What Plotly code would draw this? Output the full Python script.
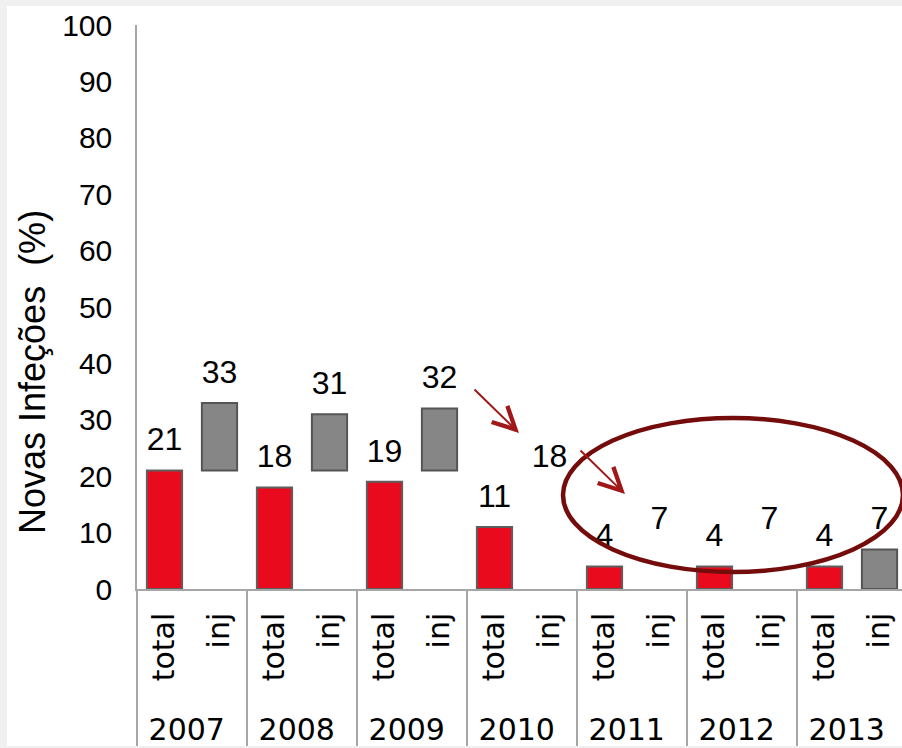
import plotly.graph_objects as go

# ---- data ----
years = ["2007", "2008", "2009", "2010", "2011", "2012", "2013"]
series_names = ["total", "inj"]
total_values = [21, 18, 19, 11, 4, 4, 4]
inj_values = [33, 31, 32, 18, 7, 7, 7]
# lower edge of the visible part of each "inj" bar as drawn in the source (None = no bar shown)
inj_bar_bottom = [21, 21, 21, None, None, None, 0]
y_ticks = list(range(0, 101, 10))

# ---- geometry helpers (pixel layout of the 902x748 canvas) ----
W, H = 902, 748
ML, MR, MT, MB = 137, 0, 25, 159
PW, PH = W - ML - MR, H - MT - MB


def px(x):
    return (x - ML) / PW


def py(y):
    return (H - MB - y) / PH


inj_heights = [None if b is None else v - b for v, b in zip(inj_values, inj_bar_bottom)]

x_total = [years, [series_names[0]] * len(years)]
x_inj = [years, [series_names[1]] * len(years)]

FONT = "Liberation Sans, Arial, sans-serif"
XFONT = "DejaVu Sans, Liberation Sans, sans-serif"

fig = go.Figure()
fig.add_trace(go.Bar(
    x=x_total, y=total_values, width=0.64,
    marker=dict(color="#EA0A1E", line=dict(color="#5E5E5E", width=2)),
    showlegend=False, hoverinfo="skip",
))
fig.add_trace(go.Bar(
    x=x_inj, y=inj_heights, base=inj_bar_bottom, width=0.64,
    marker=dict(color="#868686", line=dict(color="#555555", width=2)),
    showlegend=False, hoverinfo="skip",
))
# value labels
for xs, vals in ((x_total, total_values), (x_inj, inj_values)):
    fig.add_trace(go.Scatter(
        x=xs, y=vals, mode="markers+text", text=[str(v) for v in vals],
        textposition="top center",
        marker=dict(size=18, opacity=0),
        textfont=dict(family=FONT, size=32, color="#000000"),
        cliponaxis=False, showlegend=False, hoverinfo="skip",
    ))

fig.update_layout(
    width=W, height=H,
    margin=dict(l=ML, r=MR, t=MT, b=MB),
    paper_bgcolor="#F0F0F0",
    plot_bgcolor="#FFFFFF",
    barmode="overlay",
    font=dict(family=FONT, color="#000000"),
    xaxis=dict(
        type="multicategory",
        range=[-0.5, -0.5 + PW / 55.0],
        showline=True, linecolor="#A6A6A6", linewidth=1.5,
        showgrid=False, ticks="",
        tickangle=-90,
        tickfont=dict(family=XFONT, size=30, color="#000000"),
        showdividers=True, dividercolor="#A6A6A6", dividerwidth=1.5,
        ticklabelstandoff=10,
        labelalias={"total": "\u00a0\u200atotal", "inj": "inj"},
    ),
    yaxis=dict(
        range=[0, 100], tickvals=y_ticks,
        showline=True, linecolor="#A6A6A6", linewidth=1.5,
        showgrid=False, zeroline=False, ticks="",
        tickfont=dict(family=FONT, size=30, color="#000000"),
        ticklabelstandoff=17,
    ),
    shapes=[
        # white sheet behind the chart
        dict(type="rect", xref="paper", yref="paper", layer="below",
             x0=px(7), x1=px(W + 10), y0=py(746), y1=py(6),
             fillcolor="#FFFFFF", line=dict(width=0)),
        # grey strip at the very bottom
        dict(type="rect", xref="paper", yref="paper", layer="above",
             x0=px(-5), x1=px(W + 10), y0=py(H + 5), y1=py(746),
             fillcolor="#F0F0F0", line=dict(width=0)),
        # highlight ellipse
        dict(type="circle", xref="paper", yref="paper", layer="above",
             x0=px(563), x1=px(903), y0=py(572), y1=py(418),
             line=dict(color="#740C0C", width=4.5)),
    ],
    annotations=[
        dict(text="Novas Infeções \u00a0(%)", xref="paper", yref="paper",
             x=px(32), y=py(372), textangle=-90, showarrow=False,
             xanchor="center", yanchor="middle",
             font=dict(family=FONT, size=36, color="#000000")),
        dict(text="", xref="paper", yref="paper", x=px(519), y=py(433),
             ax=-46, ay=-45, showarrow=True, arrowhead=5, arrowsize=2.2,
             arrowwidth=2, arrowcolor="#A01818", standoff=0),
        dict(text="", xref="paper", yref="paper", x=px(625), y=py(494),
             ax=-46, ay=-45, showarrow=True, arrowhead=5, arrowsize=2.2,
             arrowwidth=2, arrowcolor="#A01818", standoff=0),
    ],
)

fig.write_html(
    "out.html",
    config={"displayModeBar": False},
    post_script="document.body.style.margin='0px';document.body.style.overflow='hidden';",
)
